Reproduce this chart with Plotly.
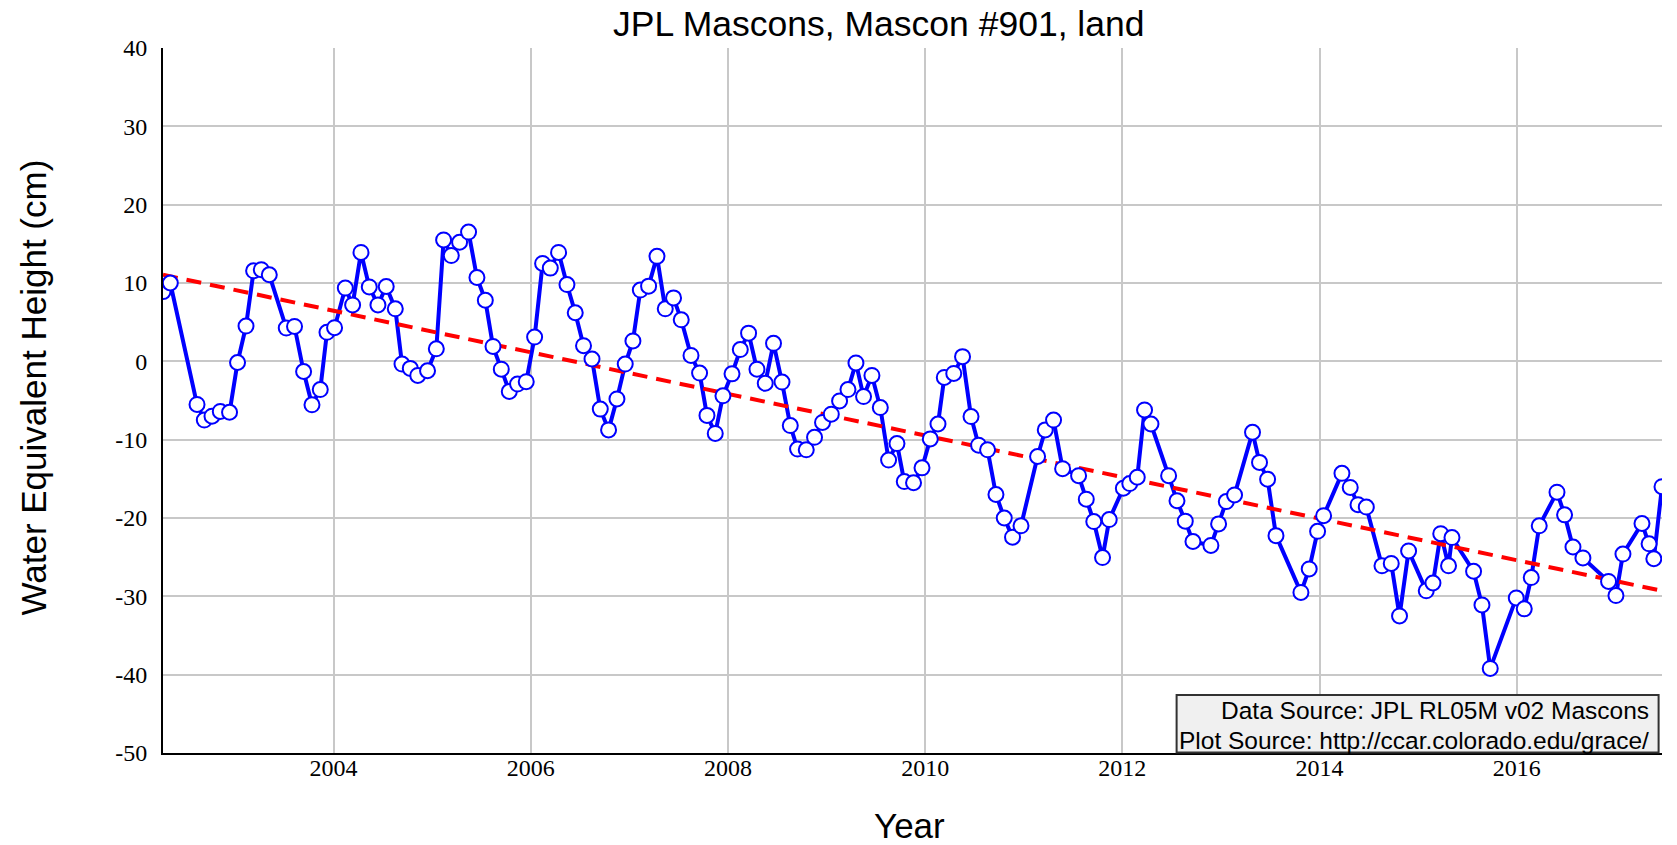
import plotly.graph_objects as go

# Decimal year of each monthly solution
years = [
    2002.270, 2002.344, 2002.615, 2002.689, 2002.767, 2002.851, 2002.945, 2003.026,
    2003.112, 2003.189, 2003.267, 2003.348, 2003.520, 2003.604, 2003.696, 2003.781,
    2003.865, 2003.933, 2004.010, 2004.119, 2004.193, 2004.278, 2004.362, 2004.450,
    2004.534, 2004.626, 2004.694, 2004.778, 2004.854, 2004.953, 2005.042, 2005.116,
    2005.194, 2005.278, 2005.369, 2005.454, 2005.539, 2005.617, 2005.701, 2005.782,
    2005.866, 2005.954, 2006.039, 2006.120, 2006.198, 2006.282, 2006.367, 2006.451,
    2006.535, 2006.621, 2006.705, 2006.789, 2006.874, 2006.958, 2007.036, 2007.111,
    2007.195, 2007.280, 2007.364, 2007.448, 2007.526, 2007.625, 2007.712, 2007.787,
    2007.871, 2007.949, 2008.041, 2008.125, 2008.209, 2008.294, 2008.378, 2008.462,
    2008.548, 2008.632, 2008.706, 2008.794, 2008.878, 2008.959, 2009.048, 2009.132,
    2009.217, 2009.298, 2009.375, 2009.460, 2009.545, 2009.629, 2009.714, 2009.788,
    2009.882, 2009.968, 2010.052, 2010.130, 2010.194, 2010.290, 2010.379, 2010.465,
    2010.542, 2010.633, 2010.718, 2010.802, 2010.886, 2010.972, 2011.140, 2011.218,
    2011.302, 2011.394, 2011.556, 2011.634, 2011.710, 2011.799, 2011.867, 2012.010,
    2012.075, 2012.151, 2012.225, 2012.290, 2012.469, 2012.554, 2012.638, 2012.716,
    2012.898, 2012.976, 2013.054, 2013.138, 2013.320, 2013.391, 2013.473, 2013.558,
    2013.811, 2013.895, 2013.980, 2014.041, 2014.227, 2014.311, 2014.390, 2014.474,
    2014.633, 2014.727, 2014.811, 2014.903, 2015.082, 2015.150, 2015.229, 2015.308,
    2015.343, 2015.562, 2015.647, 2015.731, 2015.995, 2016.076, 2016.147, 2016.228,
    2016.408, 2016.485, 2016.570, 2016.671, 2016.931, 2017.006, 2017.077, 2017.270,
    2017.342, 2017.390, 2017.473,
]

# Water equivalent height (cm)
height_cm = [
    8.9, 10.0, -5.5, -7.5, -7.0, -6.4, -6.5, -0.15,
    4.5, 11.55, 11.7, 11.05, 4.25, 4.45, -1.3, -5.55,
    -3.6, 3.7, 4.3, 9.35, 7.2, 13.9, 9.5, 7.2,
    9.55, 6.7, -0.35, -0.9, -1.8, -1.2, 1.6, 15.5,
    13.5, 15.2, 16.5, 10.7, 7.8, 1.9, -1.0, -3.85,
    -2.9, -2.6, 3.1, 12.5, 11.9, 13.9, 9.8, 6.2,
    2.0, 0.3, -6.1, -8.75, -4.8, -0.35, 2.6, 9.1,
    9.6, 13.4, 6.7, 8.1, 5.3, 0.75, -1.5, -6.9,
    -9.2, -4.4, -1.6, 1.5, 3.6, -1.0, -2.8, 2.3,
    -2.65, -8.2, -11.2, -11.3, -9.7, -7.8, -6.75, -5.05,
    -3.6, -0.2, -4.5, -1.8, -5.9, -12.6, -10.5, -15.35,
    -15.5, -13.6, -9.9, -8.0, -2.05, -1.55, 0.6, -7.05,
    -10.7, -11.3, -17.0, -20.0, -22.45, -21.0, -12.15, -8.75,
    -7.5, -13.7, -14.6, -17.6, -20.45, -25.05, -20.2, -16.2,
    -15.6, -14.8, -6.2, -8.0, -14.6, -17.8, -20.4, -23.0,
    -23.5, -20.75, -17.9, -17.05, -9.05, -12.9, -15.05, -22.25,
    -29.5, -26.5, -21.7, -19.7, -14.3, -16.1, -18.3, -18.6,
    -26.1, -25.8, -32.5, -24.2, -29.3, -28.3, -22.0, -26.1,
    -22.5, -26.8, -31.1, -39.2, -30.2, -31.6, -27.6, -21.0,
    -16.7, -19.6, -23.7, -25.1, -28.1, -29.9, -24.6, -20.7,
    -23.3, -25.2, -16.0,
]

# Linear trend (value at first and last epoch)
trend_years = [years[0], years[-1]]
trend_values = [11.05, -29.3]

x_tick_vals = [2004, 2006, 2008, 2010, 2012, 2014, 2016]
x_tick_text = ["2004", "2006", "2008", "2010", "2012", "2014", "2016"]
y_tick_vals = [40, 30, 20, 10, 0, -10, -20, -30, -40, -50]
y_tick_text = ["40", "30", "20", "10", "0", "-10", "-20", "-30", "-40", "-50"]

title_text = "JPL Mascons, Mascon #901, land"
x_title = "Year"
y_title = "Water Equivalent Height (cm)"
source_lines = ["Data Source: JPL RL05M v02 Mascons",
                "Plot Source: http://ccar.colorado.edu/grace/"]

SANS = "Liberation Sans, Arial, sans-serif"
SERIF = "Liberation Serif, Times New Roman, serif"
BLUE = "rgb(0,0,255)"
RED = "rgb(255,0,0)"
GRID = "rgb(200,200,200)"

# plot-area geometry (pixels) used to place the paper-referenced items
L, R, T, B = 163.3, 1661.7, 48.3, 753.0
PW, PH = R - L, B - T


def px_x(px):
    return (px - L) / PW


def px_y(py):
    return (B - py) / PH


fig = go.Figure()
fig.add_trace(go.Scatter(
    x=years, y=height_cm, mode="lines",
    line=dict(color=BLUE, width=4), hoverinfo="skip", showlegend=False,
))
fig.add_trace(go.Scatter(
    x=trend_years, y=trend_values, mode="lines",
    line=dict(color=RED, width=4, dash="15px,9px"), showlegend=False,
))
fig.add_trace(go.Scatter(
    x=years, y=height_cm, mode="markers",
    marker=dict(symbol="circle", size=15, color="white",
                line=dict(color=BLUE, width=2)),
    showlegend=False,
))

annotations = [
    dict(text=y_title, textangle=-90, xref="paper", yref="paper",
         x=px_x(34), y=px_y(388),
         xanchor="center", yanchor="middle", showarrow=False,
         font=dict(family=SANS, size=35, color="black")),
    dict(text=x_title, xref="paper", yref="paper",
         x=0.498, y=px_y(825),
         xanchor="center", yanchor="middle", showarrow=False,
         font=dict(family=SANS, size=35, color="black")),
]
for line_text, cy in zip(source_lines, [711, 741]):
    annotations.append(dict(
        text=line_text, xref="paper", yref="paper",
        x=px_x(1651), y=px_y(cy), xanchor="right", yanchor="middle",
        showarrow=False, font=dict(family=SANS, size=24.5, color="black")))

fig.update_layout(
    width=1677, height=845,
    margin=dict(l=163, r=15, t=48, b=92, pad=0),
    paper_bgcolor="white", plot_bgcolor="white",
    title=dict(text=title_text, x=0.524, xref="container", xanchor="center",
               y=1 - 23.5 / 845, yref="container", yanchor="middle",
               font=dict(family=SANS, size=35.5, color="black")),
    xaxis=dict(
        range=[years[0], years[-1]],
        tickmode="array", tickvals=x_tick_vals, ticktext=x_tick_text,
        showgrid=True, gridcolor=GRID, gridwidth=1.5,
        zeroline=False, showline=True, linecolor="black", linewidth=2,
        ticks="", ticklabelstandoff=-8,
        tickfont=dict(family=SERIF, size=24, color="black"),
    ),
    yaxis=dict(
        range=[-50, 40],
        tickmode="array", tickvals=y_tick_vals, ticktext=y_tick_text,
        showgrid=True, gridcolor=GRID, gridwidth=1.5,
        zeroline=False, showline=True, linecolor="black", linewidth=2,
        ticks="", ticklabelstandoff=9,
        tickfont=dict(family=SERIF, size=24, color="black"),
    ),
    shapes=[dict(type="rect", xref="paper", yref="paper", layer="above",
                 x0=px_x(1176.5), x1=px_x(1658.3), y0=px_y(752.5), y1=px_y(695),
                 fillcolor="rgb(240,240,240)",
                 line=dict(color="rgb(50,50,50)", width=2))],
    annotations=annotations,
)

fig.write_html("out.html")
